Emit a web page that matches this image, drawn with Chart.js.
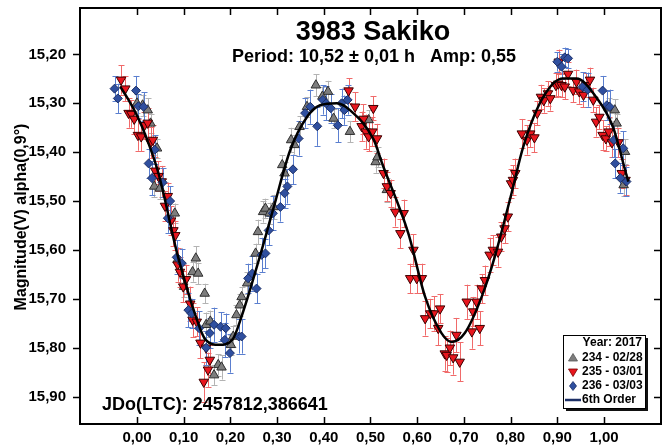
<!DOCTYPE html>
<html>
<head>
<meta charset="utf-8">
<title>3983 Sakiko</title>
<script src="https://cdn.jsdelivr.net/npm/chart.js"></script>
<style>
    html, body { margin: 0; padding: 0; background: #fff; }
    #wrap { width: 671px; height: 447px; }
</style>
</head>
<body>
<div id="wrap"><canvas id="lightcurve" width="671" height="447"></canvas></div>
<script>
/* Data: phase, reduced magnitude, error */
const xTicks = [0, 0.1, 0.2, 0.3, 0.4, 0.5, 0.6, 0.7, 0.8, 0.9, 1.0];
const yTicks = [15.2, 15.3, 15.4, 15.5, 15.6, 15.7, 15.8, 15.9];

// 234 - 02/28
const grayPhase = [0.000,0.012,0.023,0.029,0.037,0.043,0.049,0.081,0.087,0.101,
    0.119,0.126,0.131,0.145,0.148,0.157,0.165,0.174,0.181,0.201,
    0.206,0.213,0.220,0.224,0.236,0.254,0.259,0.270,0.275,0.284,
    0.293,0.311,0.316,0.330,0.337,0.348,0.364,0.383,0.397,0.409,
    0.421,0.456,0.496,0.511,0.515,0.535,1.010,1.023,1.027,1.042,1.045];
const grayMag = [15.300,15.304,15.314,15.341,15.470,15.392,15.474,15.525,15.620,15.675,
    15.645,15.617,15.648,15.689,15.753,15.746,15.856,15.835,15.840,15.794,
    15.777,15.733,15.713,15.696,15.668,15.607,15.563,15.522,15.515,15.525,
    15.512,15.426,15.443,15.375,15.385,15.348,15.307,15.263,15.286,15.276,
    15.331,15.358,15.334,15.420,15.410,15.477,15.310,15.314,15.341,15.467,15.399];
const grayErr = [0.020,0.022,0.025,0.020,0.022,0.020,0.022,0.020,0.025,0.022,
    0.020,0.025,0.022,0.020,0.025,0.022,0.020,0.022,0.025,0.020,
    0.022,0.020,0.022,0.020,0.022,0.020,0.025,0.022,0.020,0.022,
    0.025,0.020,0.022,0.025,0.020,0.022,0.020,0.022,0.020,0.022,
    0.020,0.022,0.020,0.022,0.020,0.025,0.020,0.022,0.020,0.022,0.025];

// 235 - 03/01
const redPhase = [-0.034,-0.025,-0.018,-0.012,-0.006,0.002,0.009,0.016,0.023,0.029,
    0.034,0.039,0.046,0.053,0.060,0.066,0.073,0.078,0.082,0.087,
    0.092,0.099,0.105,0.114,0.119,0.128,0.136,0.143,0.148,0.152,
    0.156,
    0.453,0.467,0.481,0.485,0.490,0.496,0.504,0.506,0.514,
    0.528,0.535,0.543,0.553,0.564,0.571,0.585,0.592,0.599,0.610,
    0.617,0.628,0.635,0.645,0.649,0.659,0.663,0.670,0.677,0.684,
    0.691,0.706,0.717,0.720,0.727,0.734,0.738,0.745,0.755,0.762,
    0.773,0.780,0.787,0.794,0.801,0.805,
    0.810,0.824,0.835,0.842,0.851,0.857,0.865,0.871,0.880,0.885,
    0.897,0.902,0.909,0.916,0.923,0.934,0.941,0.947,0.956,0.962,
    0.970,0.977,0.983,0.990,0.997,1.004,1.010,1.017,1.031,1.038,
    1.046,0.903];
const redMag = [15.252,15.270,15.320,15.322,15.332,15.365,15.368,15.345,15.340,15.380,
    15.375,15.438,15.449,15.460,15.510,15.490,15.540,15.560,15.570,15.630,
    15.645,15.675,15.660,15.710,15.743,15.747,15.790,15.870,15.800,15.845,
    15.825,
    15.274,15.307,15.347,15.332,15.358,15.368,15.358,15.310,15.372,
    15.443,15.470,15.484,15.522,15.566,15.525,15.658,15.600,15.658,15.658,
    15.740,15.730,15.730,15.760,15.720,15.812,15.815,15.800,15.820,15.774,
    15.829,15.706,15.767,15.726,15.706,15.760,15.679,15.662,15.610,15.600,
    15.604,15.573,15.556,15.532,15.464,15.457,
    15.443,15.362,15.375,15.362,15.370,15.320,15.287,15.294,15.280,15.290,
    15.263,15.260,15.263,15.266,15.240,15.273,15.256,15.276,15.283,15.263,
    15.252,15.293,15.338,15.328,15.365,15.372,15.358,15.380,15.380,15.443,
    15.457,15.215];
const redErr = [0.030,0.025,0.030,0.028,0.030,0.032,0.030,0.028,0.030,0.032,
    0.030,0.028,0.030,0.032,0.030,0.028,0.030,0.032,0.030,0.035,
    0.030,0.032,0.030,0.035,0.035,0.030,0.032,0.040,0.035,0.035,
    0.030,
    0.025,0.030,0.030,0.030,0.035,0.030,0.030,0.025,0.030,
    0.030,0.030,0.028,0.030,0.030,0.028,0.030,0.032,0.030,0.030,
    0.035,0.030,0.035,0.035,0.030,0.035,0.035,0.035,0.035,0.035,
    0.040,0.035,0.035,0.030,0.035,0.035,0.030,0.030,0.035,0.030,
    0.030,0.030,0.030,0.030,0.030,0.030,
    0.030,0.030,0.030,0.028,0.030,0.025,0.025,0.025,0.025,0.025,
    0.025,0.025,0.025,0.025,0.025,0.025,0.025,0.025,0.025,0.025,
    0.025,0.025,0.030,0.025,0.030,0.025,0.030,0.030,0.030,0.030,
    0.030,0.025];

// 236 - 03/03
const bluePhase = [-0.048,-0.041,-0.002,0.003,0.014,0.025,0.032,0.038,0.055,0.066,
    0.071,0.085,0.096,0.110,0.117,0.133,0.148,0.156,0.165,0.179,
    0.188,0.190,0.199,0.218,0.224,0.238,0.247,0.256,0.267,0.275,
    0.282,0.291,0.307,0.316,0.322,0.334,0.346,0.360,0.371,0.386,
    0.398,0.405,0.415,0.430,0.438,0.444,0.451,0.900,0.909,0.916,
    0.923,0.954,0.965,0.997,1.006,1.012,1.021,1.024,1.035,1.041,
    1.048];
const blueMag = [15.270,15.290,15.274,15.306,15.307,15.423,15.453,15.395,15.462,15.535,
    15.500,15.615,15.627,15.723,15.730,15.760,15.800,15.770,15.753,15.757,
    15.784,15.760,15.811,15.777,15.777,15.658,15.648,15.679,15.610,15.607,
    15.560,15.525,15.512,15.484,15.470,15.435,15.372,15.320,15.307,15.347,
    15.293,15.300,15.310,15.345,15.300,15.314,15.293,15.215,15.225,15.206,
    15.208,15.266,15.272,15.274,15.304,15.307,15.375,15.423,15.453,15.392,
    15.460];
const blueErr = [0.025,0.030,0.030,0.025,0.030,0.030,0.035,0.030,0.030,0.030,
    0.030,0.035,0.030,0.035,0.030,0.035,0.035,0.030,0.035,0.030,
    0.035,0.030,0.040,0.035,0.035,0.030,0.035,0.030,0.035,0.030,
    0.030,0.035,0.030,0.030,0.035,0.030,0.035,0.030,0.035,0.040,
    0.030,0.035,0.030,0.035,0.030,0.030,0.030,0.020,0.025,0.020,
    0.020,0.030,0.035,0.030,0.030,0.035,0.035,0.030,0.030,0.035,
    0.030];

// 6th order fit
const fitPhase = [-0.036,-0.020,0.000,0.020,0.046,0.086,0.103,0.119,0.147,0.176,
    0.204,0.226,0.265,0.293,0.328,0.364,0.392,0.428,0.456,0.507,
    0.525,0.581,0.617,0.652,0.674,0.702,0.738,0.766,0.802,0.827,
    0.870,0.912,0.941,0.983,1.019,1.047,1.052];
const fitMag = [15.266,15.290,15.325,15.370,15.443,15.607,15.665,15.716,15.784,15.794,
    15.784,15.730,15.607,15.512,15.396,15.328,15.304,15.300,15.314,15.375,
    15.423,15.566,15.696,15.770,15.788,15.770,15.696,15.614,15.484,15.389,
    15.287,15.249,15.249,15.287,15.348,15.443,15.460];

const FONT = "'Liberation Sans', Arial, sans-serif";

function pts(xs, ys) {
    return xs.map((x, i) => ({ x: x, y: ys[i] }));
}
function comma(v) {
    return v.toFixed(2).replace(".", ",");
}

/* Error bars, under the markers */
const errorBars = {
    id: "errorBars",
    beforeDatasetsDraw(chart) {
        const ctx = chart.ctx;
        const y = chart.scales.y;
        const area = chart.chartArea;
        ctx.save();
        ctx.beginPath();
        ctx.rect(area.left, area.top, area.right - area.left, area.bottom - area.top);
        ctx.clip();
        chart.data.datasets.forEach((ds, i) => {
            if (!ds.errs) return;
            const meta = chart.getDatasetMeta(i);
            ctx.strokeStyle = ds.errColor;
            ctx.lineWidth = 1;
            meta.data.forEach((pt, j) => {
                const v = ds.data[j].y;
                const top = y.getPixelForValue(v - ds.errs[j]);
                const bot = y.getPixelForValue(v + ds.errs[j]);
                const x = Math.round(pt.x) + 0.5;
                ctx.beginPath();
                ctx.moveTo(x, top); ctx.lineTo(x, bot);
                ctx.moveTo(x - 3, Math.round(top) + 0.5); ctx.lineTo(x + 3, Math.round(top) + 0.5);
                ctx.moveTo(x - 3, Math.round(bot) + 0.5); ctx.lineTo(x + 3, Math.round(bot) + 0.5);
                ctx.stroke();
            });
        });
        ctx.restore();
    }
};

function marker(ctx, kind, x, y, fill, stroke) {
    ctx.beginPath();
    if (kind === "up") {
        ctx.moveTo(x, y - 4.5); ctx.lineTo(x + 4.5, y + 3); ctx.lineTo(x - 4.5, y + 3);
    } else if (kind === "down") {
        ctx.moveTo(x, y + 4.5); ctx.lineTo(x + 4.5, y - 3); ctx.lineTo(x - 4.5, y - 3);
    } else {
        ctx.moveTo(x, y - 4.5); ctx.lineTo(x + 3.5, y); ctx.lineTo(x, y + 4.5); ctx.lineTo(x - 3.5, y);
    }
    ctx.closePath();
    ctx.fillStyle = fill;
    ctx.fill();
    ctx.strokeStyle = stroke;
    ctx.lineWidth = 0.8;
    ctx.stroke();
}

/* Frame, inner ticks, titles and the boxed legend */
const decorations = {
    id: "decorations",
    afterDraw(chart) {
        const ctx = chart.ctx;
        const a = chart.chartArea;
        const xs = chart.scales.x, ys = chart.scales.y;
        ctx.save();

        ctx.strokeStyle = "#000";
        ctx.lineWidth = 1.5;
        ctx.beginPath();
        xTicks.forEach(v => {
            const px = Math.round(xs.getPixelForValue(v)) + 0.5;
            ctx.moveTo(px, a.bottom); ctx.lineTo(px, a.bottom - 7);
            ctx.moveTo(px, a.top); ctx.lineTo(px, a.top + 7);
        });
        yTicks.forEach(v => {
            const py = Math.round(ys.getPixelForValue(v)) + 0.5;
            ctx.moveTo(a.left - 7, py); ctx.lineTo(a.left, py);
            ctx.moveTo(a.right - 7, py); ctx.lineTo(a.right, py);
        });
        ctx.stroke();
        ctx.lineWidth = 2;
        ctx.strokeRect(a.left, a.top, a.right - a.left, a.bottom - a.top);

        ctx.fillStyle = "#000";
        ctx.textAlign = "center";
        ctx.textBaseline = "middle";
        ctx.font = "bold 27px " + FONT;
        ctx.fillText("3983 Sakiko", 373, 33);
        ctx.font = "bold 18px " + FONT;
        ctx.fillText("Period: 10,52 \u00B1 0,01 h   Amp: 0,55", 374, 57);

        ctx.textAlign = "left";
        ctx.fillText("JDo(LTC): 2457812,386641", 102, 405);

        ctx.save();
        ctx.translate(22, 217);
        ctx.rotate(-Math.PI / 2);
        ctx.textAlign = "center";
        ctx.font = "bold 16px " + FONT;
        ctx.fillText("Magnitude(V) alpha(0,9\u00B0)", 0, 0);
        ctx.restore();

        // legend box with drop shadow
        const lx = 563, ly = 335, lw = 82, lh = 73;
        ctx.fillStyle = "#111";
        ctx.fillRect(lx + 3, ly + 3, lw, lh);
        ctx.fillStyle = "#fff";
        ctx.fillRect(lx, ly, lw, lh);
        ctx.strokeStyle = "#000";
        ctx.lineWidth = 1;
        ctx.strokeRect(lx + 0.5, ly + 0.5, lw, lh);

        ctx.font = "bold 12px " + FONT;
        ctx.fillStyle = "#000";
        ctx.textAlign = "right";
        ctx.fillText("Year: 2017", 642, 343);
        ctx.textAlign = "left";
        marker(ctx, "up", 573, 358, "#7d7d7d", "#555");
        ctx.fillStyle = "#000";
        ctx.fillText("234 - 02/28", 582, 358);
        marker(ctx, "down", 573, 372, "#e8161e", "#7a0000");
        ctx.fillStyle = "#000";
        ctx.fillText("235 - 03/01", 582, 372);
        marker(ctx, "diamond", 573, 386, "#2f4f9f", "#1c2f66");
        ctx.fillStyle = "#000";
        ctx.fillText("236 - 03/03", 582, 386);
        ctx.lineWidth = 2.5;
        ctx.beginPath();
        ctx.moveTo(565, 400); ctx.lineTo(581, 400);
        ctx.stroke();
        ctx.fillText("6th Order", 582, 400);

        ctx.restore();
    }
};

const ctx = document.getElementById("lightcurve");

new Chart(ctx, {
    type: "scatter",
    data: {
        datasets: [
            {
                label: "234 - 02/28",
                data: pts(grayPhase, grayMag),
                errs: grayErr,
                errColor: "#b3b3b3",
                pointStyle: "triangle",
                pointRadius: 5.5,
                backgroundColor: "#7d7d7d",
                borderColor: "#2e2e2e",
                borderWidth: 1,
                order: 3
            },
            {
                label: "235 - 03/01",
                data: pts(redPhase, redMag),
                errs: redErr,
                errColor: "#f06a6a",
                pointStyle: "triangle",
                rotation: 180,
                pointRadius: 5.5,
                backgroundColor: "#e8161e",
                borderColor: "#3a0000",
                borderWidth: 1,
                order: 2
            },
            {
                label: "236 - 03/03",
                data: pts(bluePhase, blueMag),
                errs: blueErr,
                errColor: "#5b7fcf",
                pointStyle: "rectRot",
                pointRadius: 4.5,
                backgroundColor: "#2f4f9f",
                borderColor: "#1c2f66",
                borderWidth: 1,
                order: 1
            },
            {
                type: "line",
                label: "6th Order",
                data: pts(fitPhase, fitMag),
                showLine: true,
                pointRadius: 0,
                borderColor: "#000",
                borderWidth: 2.5,
                cubicInterpolationMode: "monotone",
                fill: false,
                order: 0
            }
        ]
    },
    options: {
        responsive: false,
        animation: false,
        events: [],
        layout: { padding: { top: 8, right: 10, left: 0, bottom: 0 } },
        plugins: {
            legend: { display: false },
            tooltip: { enabled: false }
        },
        scales: {
            x: {
                type: "linear",
                min: -0.122,
                max: 1.122,
                afterBuildTicks: s => { s.ticks = xTicks.map(v => ({ value: v })); },
                afterFit: s => { s.height = 23; s.paddingLeft = 0; s.paddingRight = 0; },
                grid: { display: false, drawTicks: false },
                border: { display: false },
                ticks: {
                    color: "#000",
                    padding: 5,
                    maxRotation: 0,
                    autoSkip: false,
                    font: { family: FONT, size: 15, weight: "bold" },
                    callback: v => comma(v)
                }
            },
            y: {
                type: "linear",
                reverse: true,
                min: 15.105,
                max: 15.956,
                afterBuildTicks: s => { s.ticks = yTicks.map(v => ({ value: v })); },
                afterFit: s => { s.width = 80; s.paddingTop = 0; s.paddingBottom = 0; },
                grid: { display: false, drawTicks: false },
                border: { display: false },
                ticks: {
                    color: "#000",
                    padding: 14,
                    autoSkip: false,
                    font: { family: FONT, size: 15, weight: "bold" },
                    callback: v => comma(v)
                }
            }
        }
    },
    plugins: [errorBars, decorations]
});
</script>
</body>
</html>
